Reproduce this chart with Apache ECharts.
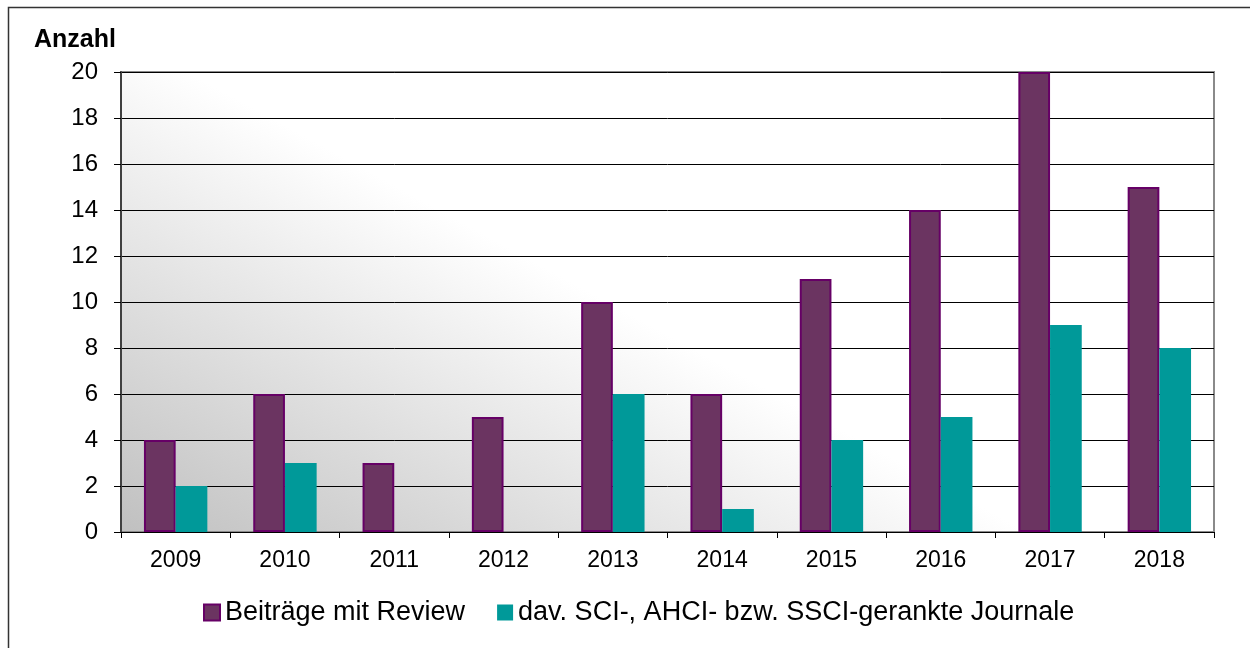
<!DOCTYPE html>
<html><head><meta charset="utf-8">
<script src="https://cdn.jsdelivr.net/npm/echarts@6/dist/echarts.min.js"></script>
<style>html,body{margin:0;padding:0;background:#fff}#c{width:1250px;height:648px}</style>
</head><body><div id="c"></div>
<script>
const categories = ['2009','2010','2011','2012','2013','2014','2015','2016','2017','2018'];
const reviewValues = [4,6,3,5,10,6,11,14,20,15];
const sciValues = [2,3,0,0,6,1,4,5,9,8];
const seriesNames = ['Beiträge mit Review','dav. SCI-, AHCI- bzw. SSCI-gerankte Journale'];
const yAxisName = 'Anzahl';

const chart = echarts.init(document.getElementById('c'));
const font = '"Liberation Sans", Arial, sans-serif';
chart.setOption({
  animation: false,
  graphic: [
    {type:'rect', shape:{x:8.5,y:7.5,width:1400,height:800}, style:{fill:'none', stroke:'#333', lineWidth:1.5}, z:-10},
    {type:'text', x:34, y:40, style:{text:yAxisName, fontFamily:font, fontSize:25, fontWeight:'bold', fill:'#000', verticalAlign:'middle', align:'left'}}
  ],
  grid: {left:121, top:72, right:36, bottom:116, show:true, borderColor:'#8a8a8a', borderWidth:2,
    backgroundColor: new echarts.graphic.LinearGradient(121,532,330,150,[{offset:0,color:'#c0c0c0'},{offset:1,color:'#ffffff'}], true)},
  legend: {left:198, top:594, icon:'rect', itemWidth:16, itemHeight:16, itemGap:32,
    textStyle:{fontFamily:font, fontSize:27, color:'#000'},
    data: seriesNames},
  xAxis: {type:'category', data:categories,
    axisLine:{lineStyle:{color:'#000', width:1}},
    axisTick:{show:true, length:6, lineStyle:{color:'#000'}},
    axisLabel:{fontFamily:font, fontSize:23, color:'#000', margin:17}},
  yAxis: {type:'value', min:0, max:20, interval:2,
    axisLine:{show:true, lineStyle:{color:'#404040', width:2}},
    axisTick:{show:true, length:7, lineStyle:{color:'#000'}},
    axisLabel:{fontFamily:font, fontSize:24, color:'#000', margin:23},
    splitLine:{lineStyle:{color:'#000', width:1}}},
  series: [
    {name:seriesNames[0], type:'bar', data:reviewValues, barGap:'0%', barCategoryGap:'42%',
      itemStyle:{color:'#6b3461', borderColor:'#660066', borderWidth:2}},
    {name:seriesNames[1], type:'bar', data:sciValues,
      itemStyle:{color:'#009999'}}
  ]
});
</script></body></html>
